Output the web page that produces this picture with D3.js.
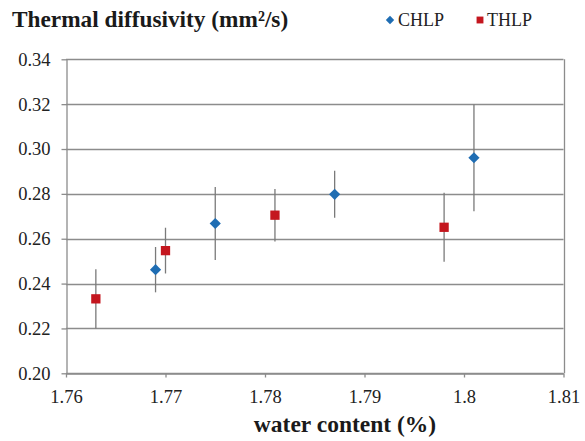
<!DOCTYPE html>
<html><head><meta charset="utf-8">
<script src="https://cdn.jsdelivr.net/npm/d3@7/dist/d3.min.js"></script>
<style>body{margin:0;background:#fff}svg{display:block}</style>
</head><body><div id="chart"></div>
<script>
const seriesNames = ["CHLP", "THLP"];
const seriesColors = ["#1f6db3", "#c4161e"];
const chlpX = [1.769, 1.775, 1.787, 1.801];
const chlpY = [0.2462, 0.2668, 0.2798, 0.2961];
const chlpErr = [0.0101, 0.0163, 0.0105, 0.0238];
const thlpX = [1.763, 1.770, 1.781, 1.798];
const thlpY = [0.2332, 0.2547, 0.2705, 0.2651];
const thlpErr = [0.0132, 0.0102, 0.0117, 0.0154];
const xTicks = [1.76, 1.77, 1.78, 1.79, 1.80, 1.81];
const xTickLabels = ["1.76", "1.77", "1.78", "1.79", "1.8", "1.81"];
const yTicks = [0.20, 0.22, 0.24, 0.26, 0.28, 0.30, 0.32, 0.34];
const yTickLabels = ["0.20", "0.22", "0.24", "0.26", "0.28", "0.30", "0.32", "0.34"];

const FONT = '"Liberation Serif", "Times New Roman", Tinos, serif';
const W = 585, H = 441;
const m = {l: 66, r: 21.5, t: 59.3, b: 67.7};
const svg = d3.select("#chart").append("svg").attr("width", W).attr("height", H);
const x = d3.scaleLinear().domain([1.76, 1.81]).range([m.l, W - m.r]);
const y = d3.scaleLinear().domain([0.20, 0.34]).range([H - m.b, m.t]);
const gridC = "#8c8c8c";

svg.append("g").selectAll("line").data(yTicks).join("line")
  .attr("x1", m.l).attr("x2", W - m.r)
  .attr("y1", d => Math.round(y(d)) + 0.5).attr("y2", d => Math.round(y(d)) + 0.5)
  .attr("stroke", gridC).attr("stroke-width", 1.3);
svg.append("line").attr("x1", Math.round(W - m.r) + 0.5).attr("x2", Math.round(W - m.r) + 0.5)
  .attr("y1", y(0.34)).attr("y2", y(0.20)).attr("stroke", gridC).attr("stroke-width", 1.3);

const yAxis = svg.append("g").attr("transform", `translate(${m.l + 0.5},0)`)
  .call(d3.axisLeft(y).tickValues(yTicks).tickFormat((d, i) => yTickLabels[i]).tickSize(5).tickPadding(11).tickSizeOuter(0));
const xAxis = svg.append("g").attr("transform", `translate(0,${Math.round(y(0.20)) + 0.5})`)
  .call(d3.axisBottom(x).tickValues(xTicks).tickFormat((d, i) => xTickLabels[i]).tickSize(4).tickPadding(12).tickSizeOuter(0));
[yAxis, xAxis].forEach(a => {
  a.select(".domain").attr("stroke", gridC).attr("stroke-width", 1.3);
  a.selectAll(".tick line").attr("stroke", gridC).attr("stroke-width", 1.3);
  a.selectAll("text").style("font-family", FONT).style("font-size", "18.5px").attr("fill", "#222");
});

const series = [
  {name: seriesNames[0], color: seriesColors[0], shape: d3.symbolDiamond2, pts: chlpX.map((v, i) => ({x: v, y: chlpY[i], e: chlpErr[i]}))},
  {name: seriesNames[1], color: seriesColors[1], shape: d3.symbolSquare2, pts: thlpX.map((v, i) => ({x: v, y: thlpY[i], e: thlpErr[i]}))}
];
const sizes = [80, 110];
series.forEach((s, si) => {
  const g = svg.append("g");
  g.selectAll("line").data(s.pts).join("line")
    .attr("x1", d => x(d.x)).attr("x2", d => x(d.x))
    .attr("y1", d => y(d.y + d.e)).attr("y2", d => y(d.y - d.e))
    .attr("stroke", "#7a7a7a").attr("stroke-width", 1.3);
  g.selectAll("path").data(s.pts).join("path")
    .attr("transform", d => `translate(${x(d.x)},${y(d.y)})`)
    .attr("d", d3.symbol().type(s.shape).size(sizes[si]))
    .attr("fill", s.color).attr("stroke", "none");
});

const legX = [390, 480], legTx = [398, 487];
series.forEach((s, i) => {
  svg.append("path").attr("transform", `translate(${legX[i]},20)`)
    .attr("d", d3.symbol().type(s.shape).size(i === 0 ? 45 : 60)).attr("fill", s.color);
  svg.append("text").attr("x", legTx[i]).attr("y", 25.5).style("font-family", FONT).style("font-size", "18px")
    .attr("fill", "#222").text(s.name);
});

svg.append("text").attr("x", 12).attr("y", 27).style("font-family", FONT).style("font-size", "23.3px")
  .style("font-weight", "bold").attr("fill", "#1a1a1a").text("Thermal diffusivity (mm²/s)");
svg.append("text").attr("x", 345).attr("y", 432).attr("text-anchor", "middle").style("font-family", FONT)
  .style("font-size", "23.5px").style("font-weight", "bold").attr("fill", "#1a1a1a").text("water content (%)");
</script></body></html>
